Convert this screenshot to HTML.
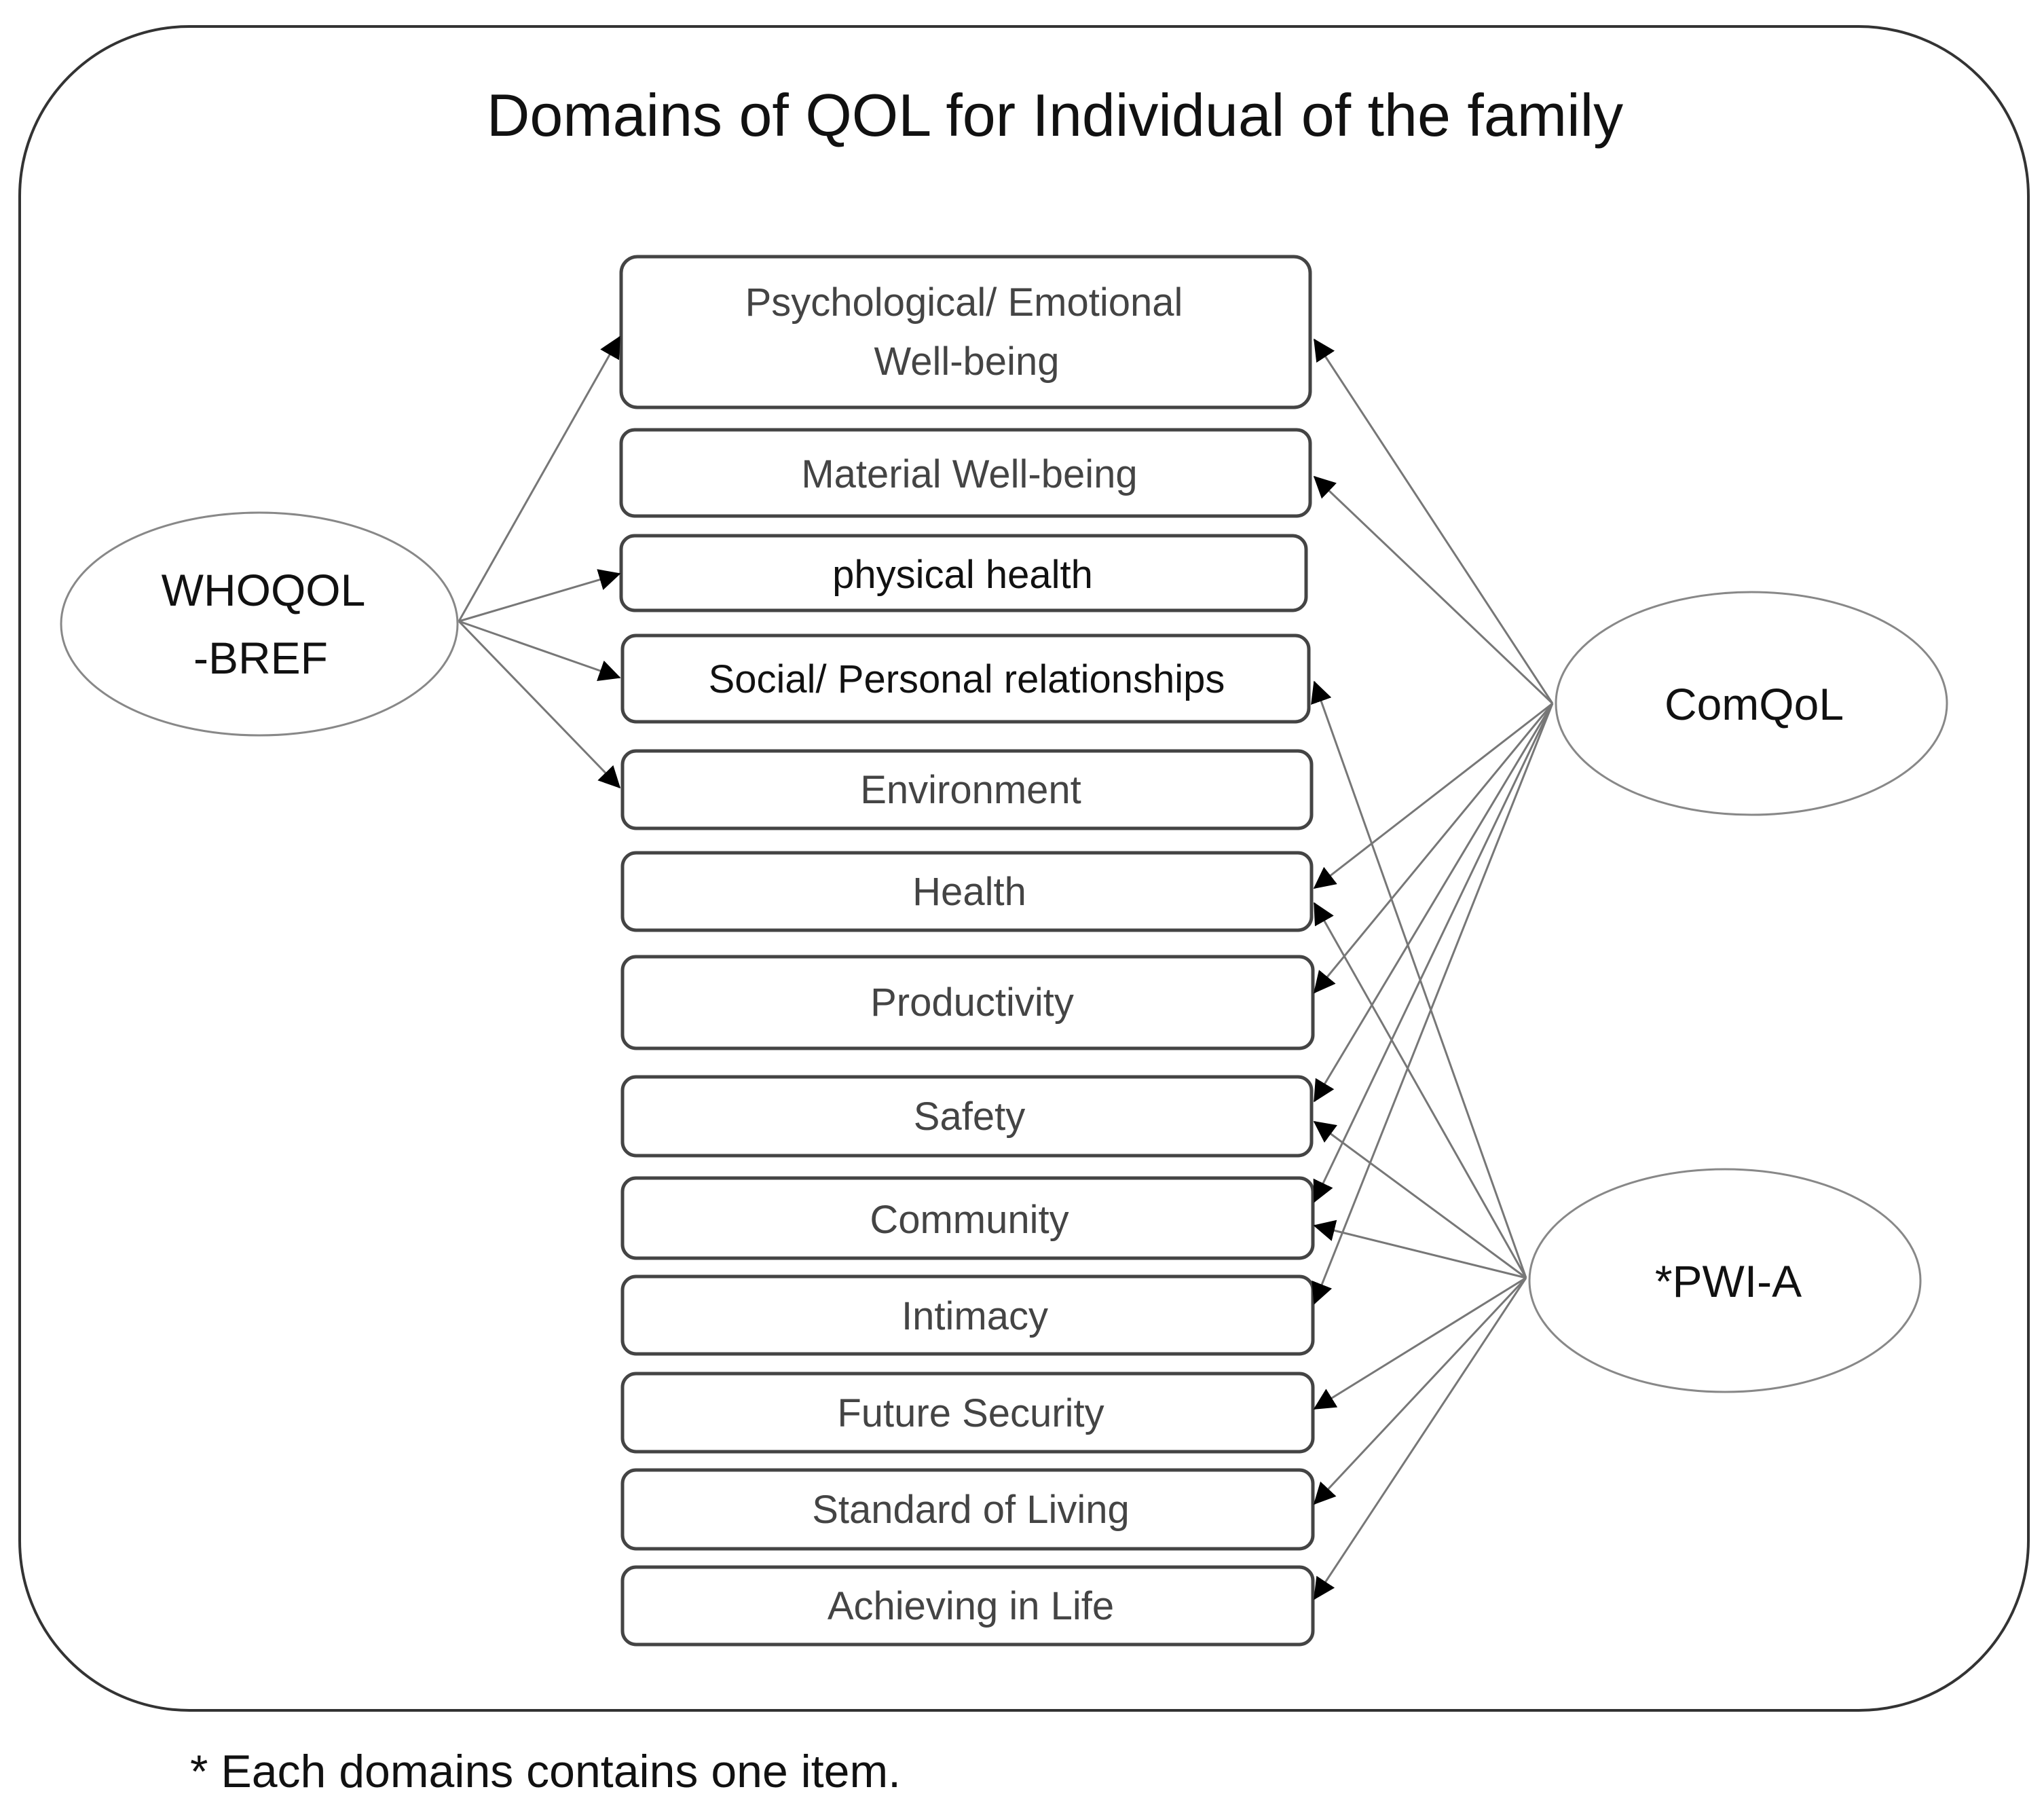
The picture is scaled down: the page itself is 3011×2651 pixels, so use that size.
<!DOCTYPE html>
<html><head><meta charset="utf-8"><style>
html,body{margin:0;padding:0;background:#fff;}
svg{display:block;}
text{font-family:"Liberation Sans",sans-serif;}
</style></head><body>
<svg width="3011" height="2651" viewBox="0 0 3011 2651" xmlns="http://www.w3.org/2000/svg">
<defs>
<marker id="a" viewBox="0 0 10 10" refX="9" refY="5" markerWidth="10" markerHeight="10" markerUnits="userSpaceOnUse" orient="auto">
</marker>
<marker id="ah" viewBox="0 0 10 10" refX="9.5" refY="5" markerWidth="32" markerHeight="32" markerUnits="userSpaceOnUse" orient="auto"><path d="M0,0 L10,5 L0,10 z" fill="#000"/></marker>
</defs>
<rect x="29" y="39" width="2959" height="2480" rx="250" ry="250" fill="none" stroke="#333" stroke-width="4"/>
<text x="1554" y="200" font-size="88" text-anchor="middle" fill="#111">Domains of QOL for Individual of the family</text>

<g fill="#fff" stroke="#444" stroke-width="5">
<rect x="915" y="378" width="1015" height="222" rx="24"/>
<rect x="915" y="633" width="1015" height="127" rx="20"/>
<rect x="915" y="789" width="1009" height="110" rx="20"/>
<rect x="917" y="936" width="1011" height="127" rx="20"/>
<rect x="917" y="1106" width="1015" height="114" rx="20"/>
<rect x="917" y="1256" width="1015" height="114" rx="20"/>
<rect x="917" y="1409" width="1017" height="135" rx="20"/>
<rect x="917" y="1586" width="1015" height="116" rx="20"/>
<rect x="917" y="1735" width="1017" height="118" rx="20"/>
<rect x="917" y="1880" width="1017" height="114" rx="20"/>
<rect x="917" y="2023" width="1017" height="115" rx="20"/>
<rect x="917" y="2165" width="1017" height="116" rx="20"/>
<rect x="917" y="2308" width="1017" height="114" rx="20"/>
</g>
<g font-size="58" text-anchor="middle" fill="#444">
<text x="1420" y="465">Psychological/ Emotional</text>
<text x="1424" y="552">Well-being</text>
<text x="1428" y="718">Material Well-being</text>
<text x="1418" y="866" fill="#111">physical health</text>
<text x="1424" y="1020" fill="#111">Social/ Personal relationships</text>
<text x="1430" y="1183">Environment</text>
<text x="1428" y="1333">Health</text>
<text x="1432" y="1496">Productivity</text>
<text x="1428" y="1664">Safety</text>
<text x="1428" y="1816">Community</text>
<text x="1436" y="1958">Intimacy</text>
<text x="1430" y="2101">Future Security</text>
<text x="1430" y="2243">Standard of Living</text>
<text x="1430" y="2385">Achieving in Life</text>
</g>

<g fill="none" stroke="#888" stroke-width="3">
<ellipse cx="382" cy="919" rx="292" ry="164"/>
<ellipse cx="2580" cy="1036" rx="288" ry="164"/>
<ellipse cx="2541" cy="1886" rx="288" ry="164"/>
</g>
<g font-size="66" text-anchor="middle" fill="#111">
<text x="388" y="892">WHOQOL</text>
<text x="384" y="992">-BREF</text>
<text x="2584" y="1060">ComQoL</text>
<text x="2546" y="1910">*PWI-A</text>
</g>

<g stroke="#777" stroke-width="3" marker-end="url(#ah)">
<line x1="676" y1="915" x2="913" y2="496"/>
<line x1="676" y1="915" x2="913" y2="845"/>
<line x1="676" y1="915" x2="913" y2="998"/>
<line x1="676" y1="915" x2="913" y2="1160"/>

<line x1="2287" y1="1036" x2="1936" y2="500"/>
<line x1="2287" y1="1036" x2="1936" y2="702"/>
<line x1="2287" y1="1036" x2="1936" y2="1308"/>
<line x1="2287" y1="1036" x2="1936" y2="1462"/>
<line x1="2287" y1="1036" x2="1936" y2="1622"/>
<line x1="2287" y1="1036" x2="1936" y2="1770"/>
<line x1="2287" y1="1036" x2="1936" y2="1920"/>

<line x1="2248" y1="1882" x2="1936" y2="1004"/>
<line x1="2248" y1="1882" x2="1936" y2="1330"/>
<line x1="2248" y1="1882" x2="1936" y2="1652"/>
<line x1="2248" y1="1882" x2="1936" y2="1805"/>
<line x1="2248" y1="1882" x2="1936" y2="2075"/>
<line x1="2248" y1="1882" x2="1936" y2="2215"/>
<line x1="2248" y1="1882" x2="1936" y2="2355"/>
</g>

<text x="280" y="2632" font-size="68" fill="#111">* Each domains contains one item.</text>
</svg>
</body></html>
